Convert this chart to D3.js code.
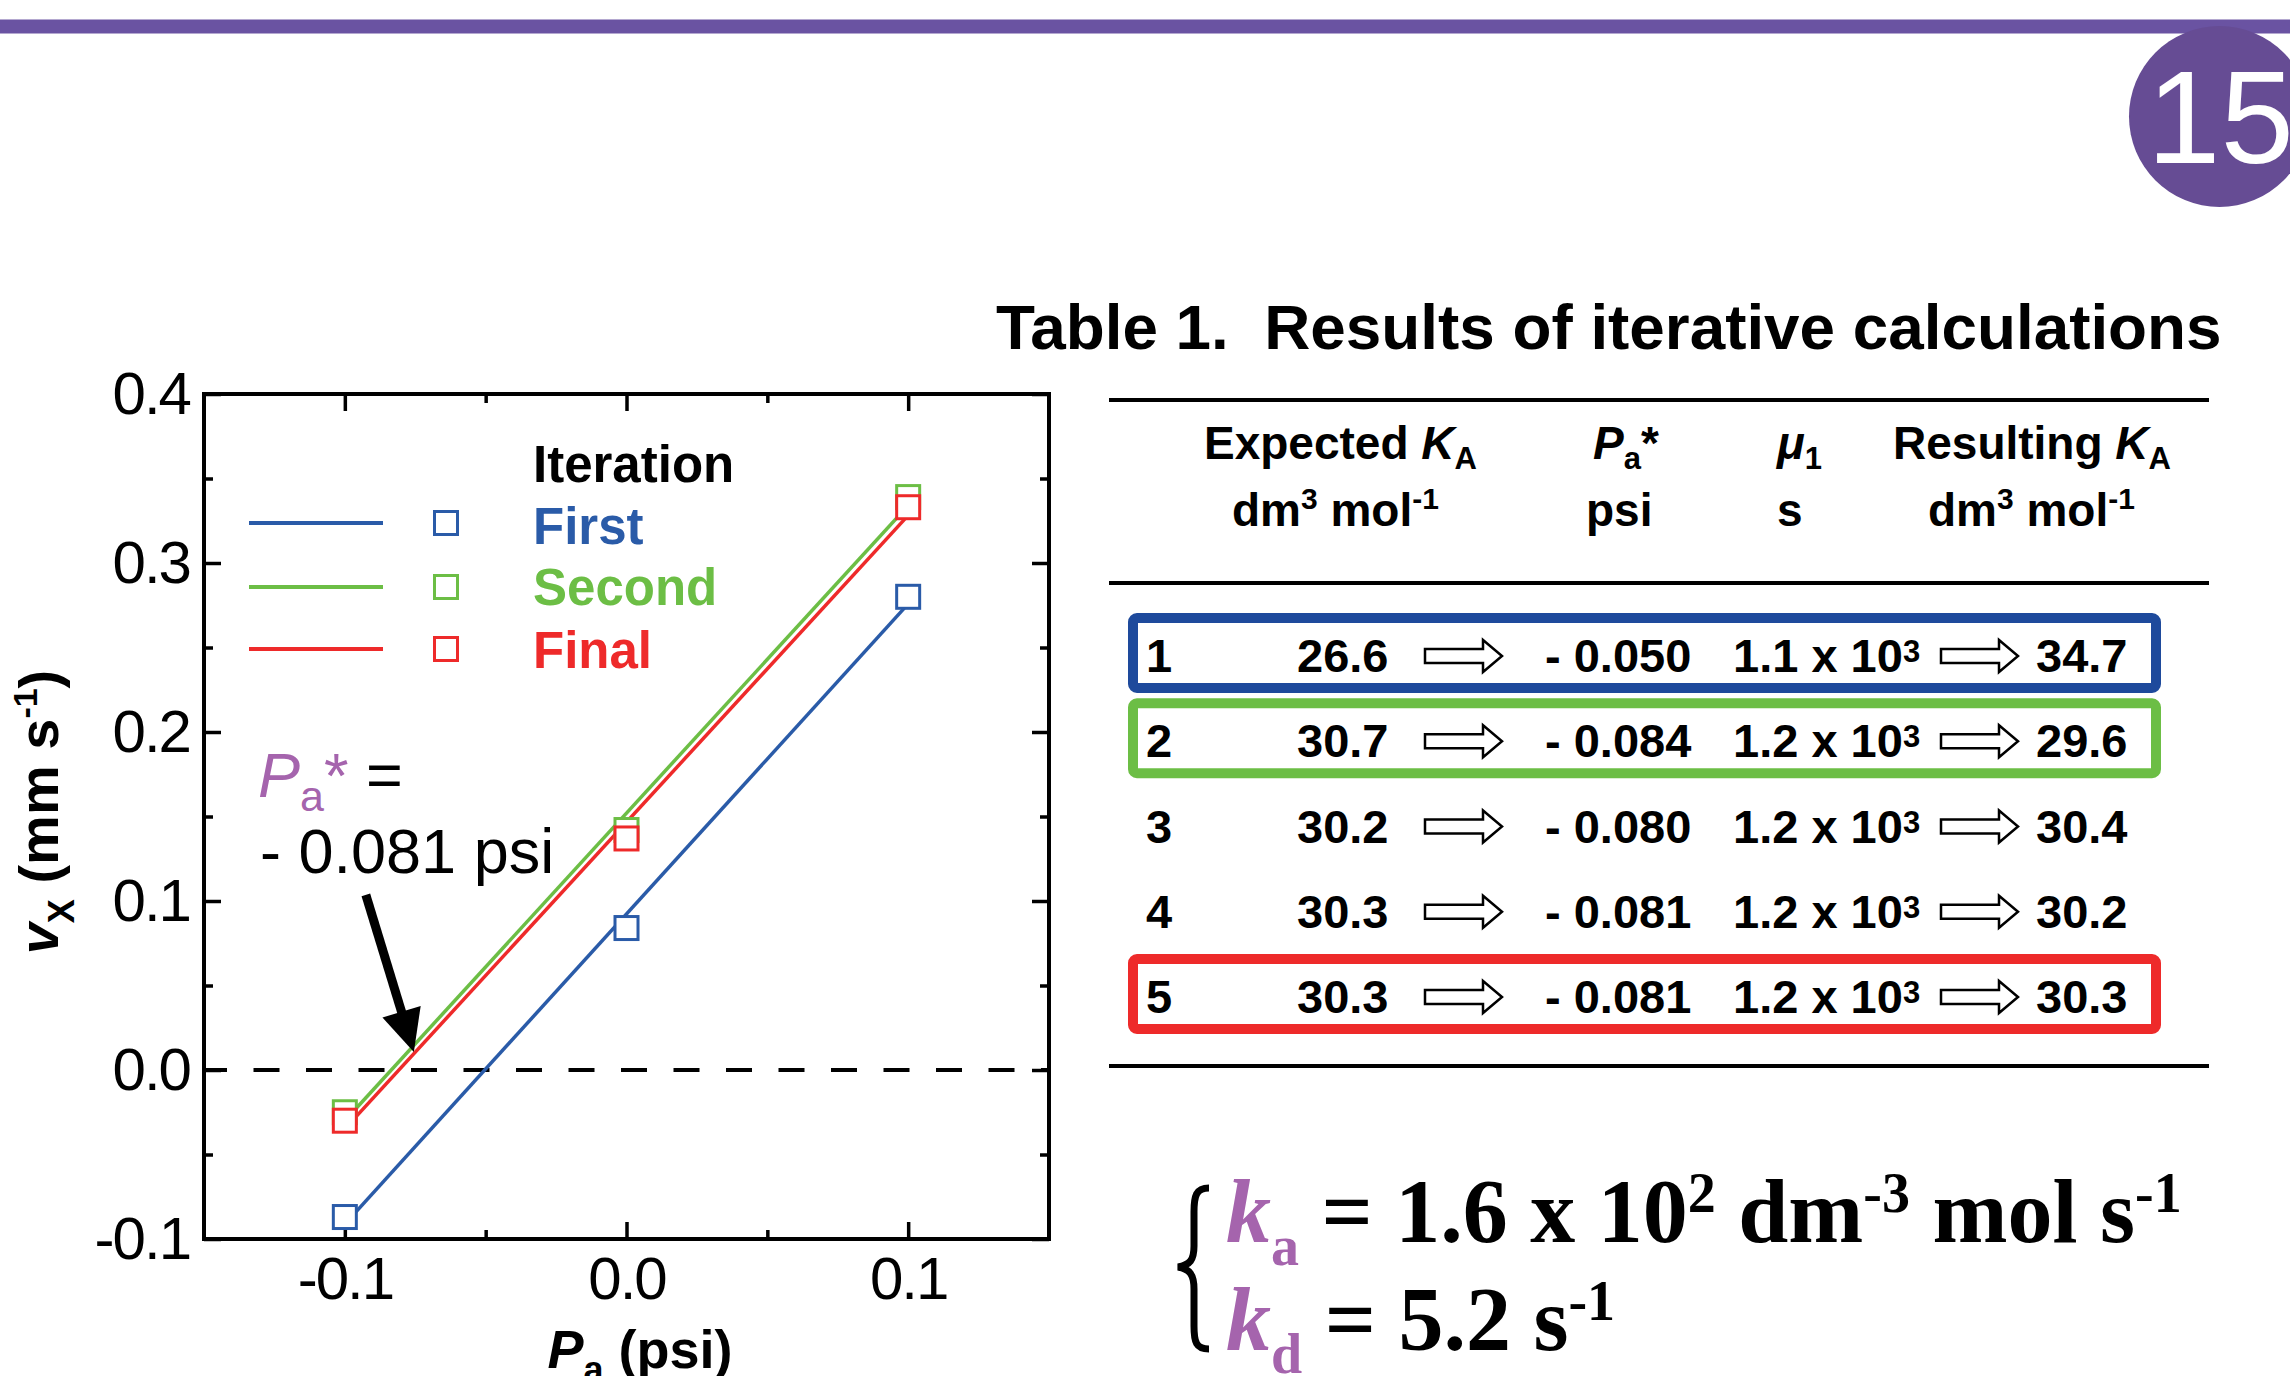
<!DOCTYPE html>
<html>
<head>
<meta charset="utf-8">
<script src="https://cdn.jsdelivr.net/npm/d3@7"></script>
<style>
body { margin: 0; background: #fff; }
svg { display: block; font-family: "Liberation Sans", Arial, sans-serif; }
</style>
</head>
<body>
<svg id="chart" width="2290" height="1376"></svg>
<script>
const width = 2290, height = 1376;

// plot data
const pressures = [-0.1, 0.0, 0.1];
const firstVx = [-0.087, 0.084, 0.280];
const secondVx = [-0.025, 0.142, 0.339];
const finalVx = [-0.030, 0.137, 0.333];
const iterationNames = ["First", "Second", "Final"];
const iterationColors = ["#2a5ba8", "#6cbe45", "#ee2a2a"];
const xTicks = [-0.1, 0.0, 0.1];
const xMinorTicks = [-0.05, 0.05];
const yTicks = [-0.1, 0.0, 0.1, 0.2, 0.3, 0.4];
const yMinorTicks = [-0.05, 0.05, 0.15, 0.25, 0.35];

// table data
const rowIndex = ["1", "2", "3", "4", "5"];
const expectedKA = ["26.6", "30.7", "30.2", "30.3", "30.3"];
const paStar = ["- 0.050", "- 0.084", "- 0.080", "- 0.081", "- 0.081"];
const mu1 = ["1.1", "1.2", "1.2", "1.2", "1.2"];
const resultingKA = ["34.7", "29.6", "30.4", "30.2", "30.3"];
const rowBoxColors = ["#1e4a9c", "#6cbe45", null, null, "#ee2a2a"];

const purple = "#a564ad";
const svg = d3.select("#chart");

svg.append("rect").attr("width", width).attr("height", height).attr("fill", "#fff");

// header bar + page number
svg.append("rect").attr("x", 0).attr("y", 19.5).attr("width", width).attr("height", 14).attr("fill", "#6a53a2");
svg.append("circle").attr("cx", 2219.5).attr("cy", 116.5).attr("r", 90.5).attr("fill", "#664c94");
svg.append("text").attr("x", 2147).attr("y", 163).attr("fill", "#fff")
    .style("font-size", "132px").text("15");

// ---------- plot ----------
const x = d3.scaleLinear().domain([-0.15, 0.15]).range([204, 1049]);
const y = d3.scaleLinear().domain([-0.1, 0.4]).range([1239, 394]);
const tickFmt = d => d.toFixed(1);

function styleAxis(g) {
    g.attr("font-family", null).attr("font-size", null);
    g.select(".domain").remove();
    g.selectAll(".tick line").attr("stroke", "#000").attr("stroke-width", 3.5);
    g.selectAll(".tick text").attr("fill", "#000")
        .style("font-size", "60px").style("letter-spacing", "-2px");
}

svg.append("g").attr("transform", `translate(${x.range()[0]},0)`)
    .call(d3.axisLeft(y).tickValues(yTicks).tickSize(-17).tickPadding(14).tickFormat(tickFmt))
    .call(styleAxis);
svg.append("g").attr("transform", `translate(${x.range()[0]},0)`)
    .call(d3.axisLeft(y).tickValues(yMinorTicks).tickSize(-9).tickFormat(""))
    .call(styleAxis);
svg.append("g").attr("transform", `translate(${x.range()[1]},0)`)
    .call(d3.axisRight(y).tickValues(yTicks).tickSize(-17).tickFormat(""))
    .call(styleAxis);
svg.append("g").attr("transform", `translate(${x.range()[1]},0)`)
    .call(d3.axisRight(y).tickValues(yMinorTicks).tickSize(-9).tickFormat(""))
    .call(styleAxis);
svg.append("g").attr("transform", `translate(0,${y.range()[0]})`)
    .call(d3.axisBottom(x).tickValues(xTicks).tickSize(-17).tickPadding(17).tickFormat(tickFmt))
    .call(styleAxis);
svg.append("g").attr("transform", `translate(0,${y.range()[0]})`)
    .call(d3.axisBottom(x).tickValues(xMinorTicks).tickSize(-9).tickFormat(""))
    .call(styleAxis);
svg.append("g").attr("transform", `translate(0,${y.range()[1]})`)
    .call(d3.axisTop(x).tickValues(xTicks).tickSize(-17).tickFormat(""))
    .call(styleAxis);
svg.append("g").attr("transform", `translate(0,${y.range()[1]})`)
    .call(d3.axisTop(x).tickValues(xMinorTicks).tickSize(-9).tickFormat(""))
    .call(styleAxis);

// zero line
svg.append("line")
    .attr("x1", x(-0.15)).attr("x2", x(0.15))
    .attr("y1", y(0)).attr("y2", y(0))
    .attr("stroke", "#000").attr("stroke-width", 4)
    .attr("stroke-dasharray", "26 26.5").attr("stroke-dashoffset", 3);

const series = [firstVx, secondVx, finalVx].map((vals, i) => ({
    name: iterationNames[i],
    color: iterationColors[i],
    points: pressures.map((p, j) => [p, vals[j]])
}));

// least-squares line through each iteration's points
function fitLine(points) {
    const mx = d3.mean(points, d => d[0]), my = d3.mean(points, d => d[1]);
    const slope = d3.sum(points, d => (d[0] - mx) * (d[1] - my)) / d3.sum(points, d => (d[0] - mx) ** 2);
    const b = my - slope * mx;
    return d3.extent(pressures).map(p => [p, b + slope * p]);
}

const line = d3.line().x(d => x(d[0])).y(d => y(d[1]));
svg.append("g").selectAll("path").data(series).join("path")
    .attr("d", d => line(fitLine(d.points)))
    .attr("fill", "none").attr("stroke", d => d.color).attr("stroke-width", 3.5);

const sq = 23;
series.forEach(s => {
    svg.append("g").selectAll("rect").data(s.points).join("rect")
        .attr("x", d => x(d[0]) - sq / 2).attr("y", d => y(d[1]) - sq / 2)
        .attr("width", sq).attr("height", sq)
        .attr("fill", "#fff").attr("stroke", s.color).attr("stroke-width", 3);
});

// frame
svg.append("rect")
    .attr("x", x.range()[0]).attr("y", y.range()[1])
    .attr("width", x.range()[1] - x.range()[0]).attr("height", y.range()[0] - y.range()[1])
    .attr("fill", "none").attr("stroke", "#000").attr("stroke-width", 4);

// legend
const legend = svg.append("g").style("font-weight", "bold").style("font-size", "51px");
legend.append("text").attr("x", 533).attr("y", 482).attr("fill", "#000").text("Iteration");
const legendY = [523, 587, 649];
const legendBase = [544, 605, 668];
series.forEach((s, i) => {
    legend.append("line").attr("x1", 249).attr("x2", 383)
        .attr("y1", legendY[i]).attr("y2", legendY[i])
        .attr("stroke", s.color).attr("stroke-width", 4);
    legend.append("rect").attr("x", 446 - sq / 2).attr("y", legendY[i] - sq / 2)
        .attr("width", sq).attr("height", sq)
        .attr("fill", "#fff").attr("stroke", s.color).attr("stroke-width", 3);
    legend.append("text").attr("x", 533).attr("y", legendBase[i])
        .attr("fill", s.color).text(s.name);
});

// annotation P_a* = -0.081 psi
const ann = svg.append("text").attr("x", 258).attr("y", 797).style("font-size", "63px");
ann.append("tspan").attr("fill", purple).style("font-style", "italic").text("P");
ann.append("tspan").attr("fill", purple).attr("dy", 14).style("font-size", "43px").text("a");
ann.append("tspan").attr("fill", purple).attr("dy", -14).text("*");
ann.append("tspan").attr("fill", "#000").text(" =");
svg.append("text").attr("x", 260).attr("y", 873).style("font-size", "63px").text("- 0.081 psi");

const tip = [x(-0.0755), y(0.0107)];
const tail = [tip[0] - 48, tip[1] - 157];
const len = Math.hypot(tip[0] - tail[0], tip[1] - tail[1]);
const u = [(tip[0] - tail[0]) / len, (tip[1] - tail[1]) / len];
const nrm = [-u[1], u[0]];
const base = [tip[0] - 42 * u[0], tip[1] - 42 * u[1]];
svg.append("line").attr("x1", tail[0]).attr("y1", tail[1])
    .attr("x2", base[0] + 4 * u[0]).attr("y2", base[1] + 4 * u[1])
    .attr("stroke", "#000").attr("stroke-width", 9);
svg.append("path")
    .attr("d", `M${tip}L${base[0] + 20 * nrm[0]},${base[1] + 20 * nrm[1]}L${base[0] - 20 * nrm[0]},${base[1] - 20 * nrm[1]}Z`)
    .attr("fill", "#000");

// axis titles
const yTitle = svg.append("text").attr("transform", "translate(58,812) rotate(-90)")
    .attr("text-anchor", "middle").style("font-weight", "bold").style("font-size", "56px");
yTitle.append("tspan").style("font-style", "italic").text("v");
yTitle.append("tspan").attr("dy", 16).style("font-size", "36px").text("X");
yTitle.append("tspan").attr("dy", -16).text(" (mm s");
yTitle.append("tspan").attr("dy", -21).style("font-size", "34px").text("-1");
yTitle.append("tspan").attr("dy", 21).text(")");

const xTitle = svg.append("text").attr("x", 640).attr("y", 1368)
    .attr("text-anchor", "middle").style("font-weight", "bold").style("font-size", "54px");
xTitle.append("tspan").style("font-style", "italic").text("P");
xTitle.append("tspan").attr("dy", 14).style("font-size", "36px").text("a");
xTitle.append("tspan").attr("dy", -14).text(" (psi)");

// ---------- table ----------
const table = svg.append("g").style("font-weight", "bold");
table.append("text").attr("x", 996).attr("y", 349).style("font-size", "63.8px")
    .text("Table 1.\u00a0\u00a0Results of iterative calculations");

[400, 583, 1066].forEach(ry => {
    table.append("line").attr("x1", 1109).attr("x2", 2209).attr("y1", ry).attr("y2", ry)
        .attr("stroke", "#000").attr("stroke-width", 4);
});

function headerSub(xp, plain, sym, sub, extra) {
    const t = table.append("text").attr("x", xp).attr("y", 459).style("font-size", "46px");
    if (plain) t.append("tspan").text(plain);
    t.append("tspan").style("font-style", "italic").text(sym);
    t.append("tspan").attr("dy", 10).style("font-size", "31px").text(sub);
    if (extra) t.append("tspan").attr("dy", -10).text(extra);
}
headerSub(1204, "Expected ", "K", "A");
headerSub(1593, null, "P", "a", "*");
headerSub(1777, null, "\u03bc", "1");
headerSub(1893, "Resulting ", "K", "A");

function unitText(xp) {
    const t = table.append("text").attr("x", xp).attr("y", 526).style("font-size", "46px");
    t.append("tspan").text("dm");
    t.append("tspan").attr("dy", -17).style("font-size", "30px").text("3");
    t.append("tspan").attr("dy", 17).text(" mol");
    t.append("tspan").attr("dy", -17).style("font-size", "30px").text("-1");
}
unitText(1232);
table.append("text").attr("x", 1586).attr("y", 526).style("font-size", "46px").text("psi");
table.append("text").attr("x", 1777).attr("y", 526).style("font-size", "46px").text("s");
unitText(1928);

const rowY = d3.scaleLinear().domain([0, rowIndex.length - 1]).range([672, 1013]);

function hollowArrow(x0, x1, cy) {
    const h = 7, hh = 16, hl = 19;
    return `M${x0},${cy - h}L${x1 - hl},${cy - h}L${x1 - hl},${cy - hh}L${x1},${cy}` +
        `L${x1 - hl},${cy + hh}L${x1 - hl},${cy + h}L${x0},${cy + h}Z`;
}

rowIndex.forEach((idx, i) => {
    const by = rowY(i);
    if (rowBoxColors[i]) {
        table.append("rect").attr("x", 1133).attr("y", by - 54)
            .attr("width", 1023).attr("height", 70).attr("rx", 4)
            .attr("fill", "none").attr("stroke", rowBoxColors[i]).attr("stroke-width", 10);
    }
    const cell = (xp, txt) => table.append("text").attr("x", xp).attr("y", by)
        .style("font-size", "47px").text(txt);
    cell(1146, idx);
    cell(1297, expectedKA[i]);
    cell(1545, paStar[i]);
    const mu = cell(1733, mu1[i] + " x 10");
    mu.append("tspan").attr("dy", -10).style("font-size", "31px").text("3");
    cell(2036, resultingKA[i]);
    [[1425, 1502], [1941, 2018]].forEach(([a0, a1]) => {
        table.append("path").attr("d", hollowArrow(a0, a1, by - 16))
            .attr("fill", "#fff").attr("stroke", "#000").attr("stroke-width", 2.5);
    });
});

// ---------- rate constants ----------
svg.append("path")
    .attr("d", "M1209,1188C1196,1188 1194,1196 1194,1212L1194,1246C1194,1260 1190,1265 1178,1267" +
        "C1190,1269 1194,1275 1194,1289L1194,1326C1194,1342 1196,1349 1209,1349")
    .attr("fill", "none").attr("stroke", "#000").attr("stroke-width", 7);

function rateLine(yb, subLetter, parts) {
    const t = svg.append("text").attr("x", 1226).attr("y", yb)
        .style("font-family", "'Liberation Serif', 'Times New Roman', serif")
        .style("font-weight", "bold").style("font-size", "90px");
    t.append("tspan").attr("fill", purple).style("font-style", "italic").text("k");
    t.append("tspan").attr("fill", purple).attr("dy", 23).style("font-size", "56px").text(subLetter);
    let shift = 23;
    parts.forEach(([txt, sup]) => {
        t.append("tspan").attr("dy", -shift).text(txt);
        t.append("tspan").attr("dy", -30).style("font-size", "56px").text(sup);
        shift = -30;
    });
}
rateLine(1242, "a", [[" = 1.6 x 10", "2"], [" dm", "-3"], [" mol s", "-1"]]);
rateLine(1350, "d", [[" = 5.2 s", "-1"]]);
</script>
</body>
</html>
